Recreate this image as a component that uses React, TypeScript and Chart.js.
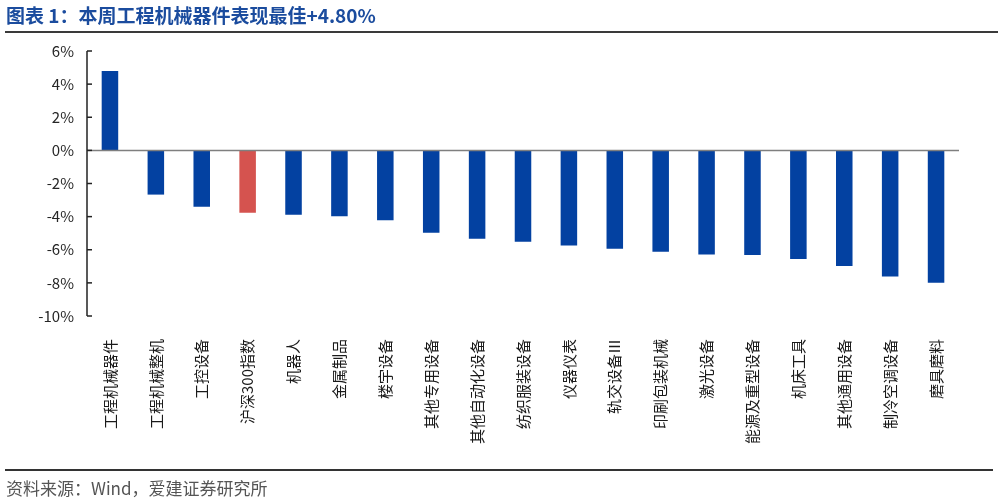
import React, { useEffect, useRef } from "react";
import { Chart, registerables } from "chart.js";

Chart.register(...registerables);

const categories = [
  "工程机械器件",
  "工程机械整机",
  "工控设备",
  "沪深300指数",
  "机器人",
  "金属制品",
  "楼宇设备",
  "其他专用设备",
  "其他自动化设备",
  "纺织服装设备",
  "仪器仪表",
  "轨交设备Ⅲ",
  "印刷包装机械",
  "激光设备",
  "能源及重型设备",
  "机床工具",
  "其他通用设备",
  "制冷空调设备",
  "磨具磨料",
];

const weeklyReturn = [
  4.8, -2.67, -3.4, -3.76, -3.89, -3.98, -4.22, -4.97, -5.33, -5.51, -5.75,
  -5.94, -6.12, -6.28, -6.32, -6.56, -6.98, -7.61, -7.99,
];

const highlightCategory = "沪深300指数";

const yTicks = [6, 4, 2, 0, -2, -4, -6, -8, -10];

const titleText = "图表 1：本周工程机械器件表现最佳+4.80%";
const sourceText = "资料来源：Wind，爱建证券研究所";

const BLUE = "#0341A1";
const RED = "#D5534F";
const FONT = '"Noto Sans CJK SC", "Noto Sans", sans-serif';

const axisPlugin = {
  id: "customAxis",
  afterDatasetsDraw(chart: any) {
    const { ctx, chartArea, scales } = chart;
    const y = scales.y;
    ctx.save();
    const y0 = y.getPixelForValue(0);
    ctx.strokeStyle = "#7f7f7f";
    ctx.lineWidth = 1.5;
    ctx.beginPath();
    ctx.moveTo(chartArea.left, y0);
    ctx.lineTo(chartArea.right, y0);
    ctx.stroke();
    ctx.strokeStyle = "#222";
    ctx.lineWidth = 1.5;
    const top = y.getPixelForValue(yTicks[0]);
    const bottom = y.getPixelForValue(yTicks[yTicks.length - 1]);
    ctx.beginPath();
    ctx.moveTo(chartArea.left, top);
    ctx.lineTo(chartArea.left, bottom);
    ctx.stroke();
    for (const v of yTicks) {
      const py = y.getPixelForValue(v);
      ctx.beginPath();
      ctx.moveTo(chartArea.left, py);
      ctx.lineTo(chartArea.left + 5, py);
      ctx.stroke();
    }
    ctx.restore();
  },
};

export default function App() {
  const canvasRef = useRef<HTMLCanvasElement | null>(null);

  useEffect(() => {
    if (!canvasRef.current) return;
    const chart = new Chart(canvasRef.current, {
      type: "bar",
      data: {
        labels: categories,
        datasets: [
          {
            data: weeklyReturn,
            backgroundColor: categories.map((c) =>
              c === highlightCategory ? RED : BLUE
            ),
            borderWidth: 0,
            categoryPercentage: 1,
            barPercentage: 0.36,
          },
        ],
      },
      options: {
        animation: false,
        responsive: false,
        devicePixelRatio: 1,
        layout: { padding: { left: 0, top: 51, right: 39, bottom: 45 } },
        plugins: {
          legend: { display: false },
          title: { display: false },
          tooltip: { enabled: false },
        },
        scales: {
          x: {
            type: "category",
            grid: { display: false, drawTicks: false },
            border: { display: false },
            ticks: {
              autoSkip: false,
              maxRotation: 90,
              minRotation: 90,
              padding: 23,
              color: "#1a1a1a",
              font: { family: FONT, size: 15 },
            },
            afterFit: (scale: any) => {
              scale.height = 140;
            },
          },
          y: {
            min: -10,
            max: 6,
            grid: { display: false, drawTicks: false },
            border: { display: false },
            ticks: {
              stepSize: 2,
              padding: 13,
              color: "#262626",
              font: { family: FONT, size: 15 },
              callback: (v: any) => `${v}%`,
            },
            afterFit: (scale: any) => {
              scale.width = 87;
            },
          },
        },
      },
      plugins: [axisPlugin],
    });
    return () => chart.destroy();
  }, []);

  return (
    <div
      style={{
        position: "fixed",
        left: 0,
        top: 0,
        width: 998,
        height: 501,
        background: "#fff",
        overflow: "hidden",
      }}
    >
      <canvas
        ref={canvasRef}
        width={998}
        height={501}
        style={{ position: "absolute", left: 0, top: 0, width: 998, height: 501 }}
      />
      <div
        style={{
          position: "absolute",
          left: 6,
          top: 1,
          fontFamily: FONT,
          fontWeight: 700,
          fontSize: 19,
          color: "#1B4C9E",
          whiteSpace: "nowrap",
          lineHeight: "28px",
        }}
      >
        {titleText}
      </div>
      <div
        style={{
          position: "absolute",
          left: 5,
          top: 31,
          width: 993,
          height: 2,
          background: "#3a3a3a",
        }}
      />
      <div
        style={{
          position: "absolute",
          left: 5,
          top: 469,
          width: 988,
          height: 2,
          background: "#333",
        }}
      />
      <div
        style={{
          position: "absolute",
          left: 6,
          top: 475,
          fontFamily: FONT,
          fontSize: 17,
          color: "#555",
          whiteSpace: "nowrap",
          lineHeight: "25px",
        }}
      >
        {sourceText}
      </div>
    </div>
  );
}
